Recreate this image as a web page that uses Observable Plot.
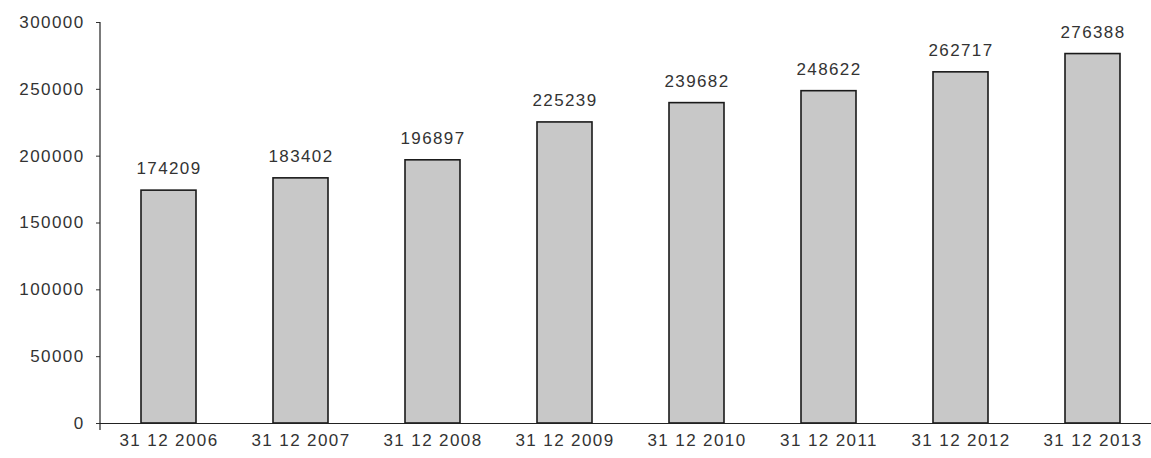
<!DOCTYPE html>
<html><head><meta charset="utf-8">
<script src="https://cdn.jsdelivr.net/npm/d3@7"></script>
<script src="https://cdn.jsdelivr.net/npm/@observablehq/plot@0.6"></script>
<style>body{margin:0;background:#fff}</style>
</head><body><div id="chart"></div>
<script>
const categories = ["31 12 2006","31 12 2007","31 12 2008","31 12 2009","31 12 2010","31 12 2011","31 12 2012","31 12 2013"];
const values = [174209,183402,196897,225239,239682,248622,262717,276388];
const yTicks = [0,50000,100000,150000,200000,250000,300000];
const data = categories.map((c,i)=>({c, v: values[i]}));

const chart = Plot.plot({
  width: 1151, height: 458,
  marginTop: 22, marginBottom: 35, marginLeft: 100, marginRight: 0,
  style: {fontFamily: "'Liberation Sans', Arial, sans-serif", fontSize: "17px", letterSpacing: "1.4px", color: "#333", background: "#fff"},
  x: {domain: categories, range: [101, 1161], paddingInner: 0.58, paddingOuter: 0.29, align: 0.5, label: null, tickSize: 0, tickPadding: 10},
  y: {domain: [0, 300000], ticks: yTicks, label: null, tickSize: 4, tickFormat: d => String(d), tickPadding: 12},
  marks: [
    Plot.barY(data, {x: "c", y: "v", fill: "#c8c8c8", stroke: "#1a1a1a", strokeWidth: 1.6}),
    Plot.text(data, {x: "c", y: "v", text: d => String(d.v), dy: -22, fontSize: 17, fill: "#333"}),
    Plot.ruleY([0], {stroke: "#222", strokeWidth: 1.2})
  ]
});
const svg = d3.select(chart);
svg.append("line").attr("x1",100).attr("x2",100).attr("y1",22).attr("y2",430).attr("stroke","#222").attr("stroke-width",1.2);
document.getElementById("chart").appendChild(chart);
</script></body></html>
